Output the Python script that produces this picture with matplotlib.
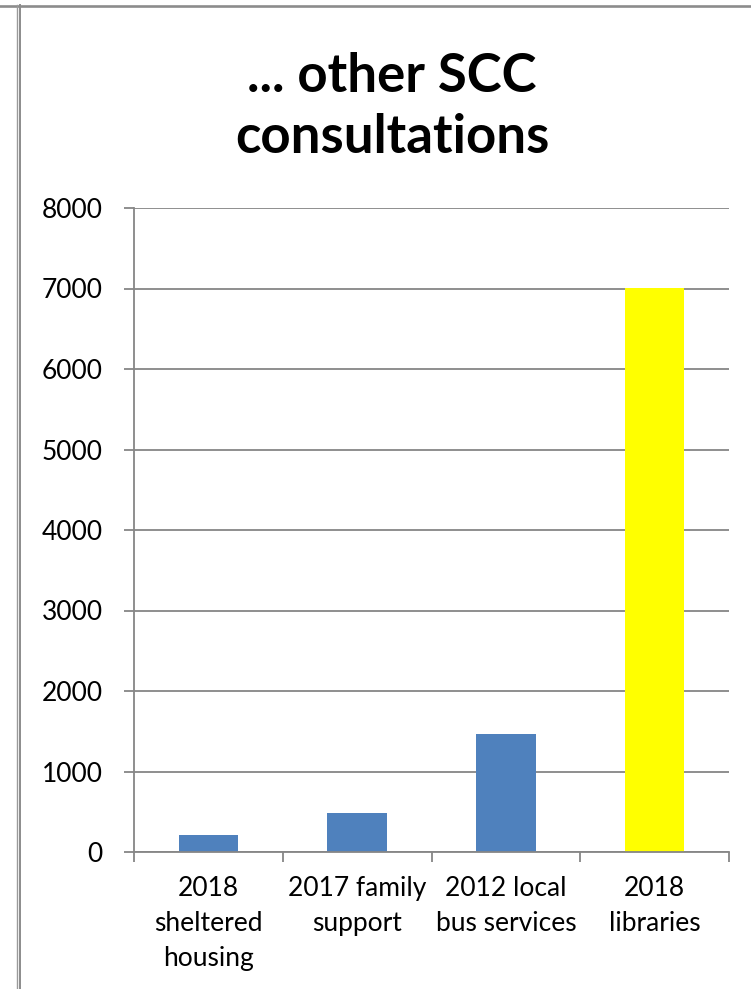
import matplotlib
matplotlib.use("Agg")
import matplotlib.pyplot as plt
from matplotlib.lines import Line2D

categories = ["2018\nsheltered\nhousing", "2017 family\nsupport", "2012 local\nbus services", "2018\nlibraries"]
values = [210, 490, 1460, 7010]
colors = ["#4F81BD", "#4F81BD", "#4F81BD", "#FFFF00"]
yticks = [0, 1000, 2000, 3000, 4000, 5000, 6000, 7000, 8000]
title = "... other SCC\nconsultations"

plt.rcParams['font.family'] = ['Lato', 'DejaVu Sans']

W, H = 751, 989
fig = plt.figure(figsize=(W / 100, H / 100), dpi=100)
ax = fig.add_axes([134 / W, 1 - 852 / H, (729 - 134) / W, (852 - 208) / H])

x = list(range(len(categories)))
ax.bar(x, values, width=0.4, color=colors, zorder=3)
ax.set_xlim(-0.5, len(categories) - 0.5)
ax.set_ylim(0, 8000)
ax.set_yticks(yticks)
ax.set_yticklabels([str(v) for v in yticks], fontsize=19)
ax.grid(axis='y', color='#868686', linewidth=1.3, zorder=0)
ax.set_axisbelow(True)

ax.set_xticks(x)
ax.set_xticklabels(categories, fontsize=19, linespacing=1.5, va='top')
ax.set_xticks([i - 0.5 for i in range(len(categories) + 1)], minor=True)
ax.tick_params(axis='x', which='major', length=0, pad=17)
ax.tick_params(axis='x', which='minor', length=7.5, width=1.3, color='#868686', direction='out')
ax.tick_params(axis='y', length=7.5, width=1.3, color='#868686', direction='out', pad=15)

for s in ['top', 'right']:
    ax.spines[s].set_visible(False)
ax.spines['left'].set_color('#868686')
ax.spines['left'].set_linewidth(1.3)
ax.spines['bottom'].set_color('#868686')
ax.spines['bottom'].set_linewidth(1.3)
ax.spines['bottom'].set_zorder(4)

fig.text(392 / W, 1 - 107 / H, title, ha='center', va='center', fontsize=38,
         fontweight='bold', linespacing=1.3)

# frame lines
fig.add_artist(Line2D([0, 1], [1 - 6 / H, 1 - 6 / H], color='#8c8c8c', linewidth=1.9, transform=fig.transFigure))
fig.add_artist(Line2D([16.7 / W, 16.7 / W], [0, 1 - 5 / H], color='#9a9a9a', linewidth=1.0, transform=fig.transFigure))
fig.add_artist(Line2D([20.0 / W, 20.0 / W], [0, 1 - 5 / H], color='#8c8c8c', linewidth=1.4, transform=fig.transFigure))

fig.savefig("out.png", dpi=100, facecolor='white')
